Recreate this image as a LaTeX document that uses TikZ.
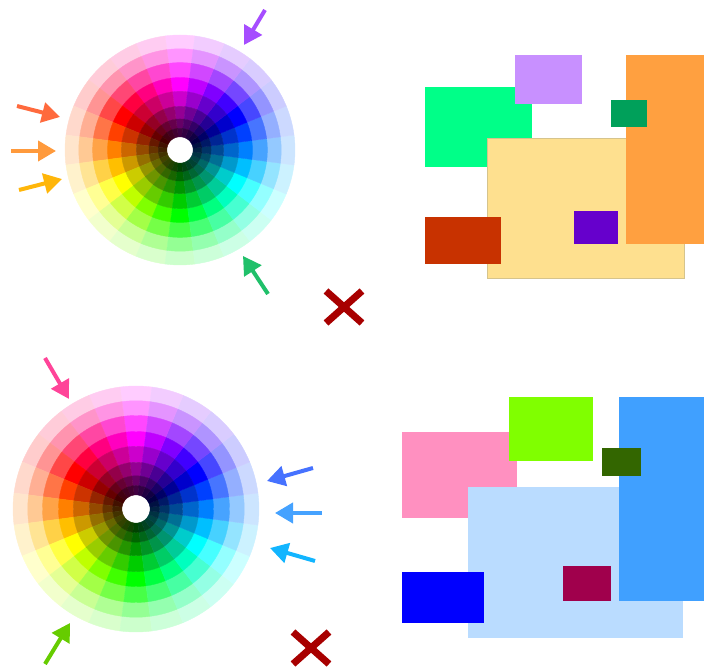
\documentclass[tikz,border=0pt]{standalone}
\usepackage{tikz}
\usetikzlibrary{positioning,arrows.meta}

% 24 hues x 8 rings, tints outside, shades inside
\newcommand{\colorwheel}[2]{%
  \begin{scope}[shift={#1}]
    \foreach \k in {0,...,23}{
      \pgfmathsetmacro\ang{90+15*\k}
      \pgfmathsetmacro\hue{mod(\ang+210,360)}
      \foreach \sat/\bri/\rin/\rout in {0.2/1/0.88/1, 0.42/1/0.76/0.88,
          0.72/1/0.63/0.76, 1/1/0.51/0.63, 1/0.8/0.38/0.51,
          1/0.58/0.27/0.38, 1/0.4/0.19/0.27, 1/0.26/0.115/0.19}{
        \definecolor{wc}{Hsb}{\hue,\sat,\bri}
        \filldraw[wc, line width=0.4pt]
          ({\ang-7.5}:{#2*\rin}) arc[start angle=\ang-7.5, end angle=\ang+7.5, radius=#2*\rin]
          -- ({\ang+7.5}:{#2*\rout}) arc[start angle=\ang+7.5, end angle=\ang-7.5, radius=#2*\rout]
          -- cycle;
      }
    }
  \end{scope}}

\definecolor{xred}{HTML}{A80000}

\begin{document}
\begin{tikzpicture}[
      x=1pt, y=1pt,
      arr/.style={line width=4pt, -{Triangle[length=18pt, width=20pt]}},
      xmark/.style={draw=xred, line width=7pt},
      box/.style={line width=0.8pt},
  ]
    \useasboundingbox (0,0) rectangle (710,671);

    % Top row: wheel, pointers, cross
    \colorwheel{(180,521)}{115}
    \coordinate (violet-tail) at (265,661);  \coordinate (violet-tip) at (244,626);
    \coordinate (spring-tail) at (268,377);  \coordinate (spring-tip) at (243,415);
    \coordinate (coral-tail)  at (17,565);   \coordinate (coral-tip)  at (60,554);
    \coordinate (orange-tail) at (11,520);   \coordinate (orange-tip) at (56,520);
    \coordinate (amber-tail)  at (19,481);   \coordinate (amber-tip)  at (62,492);
    \draw[arr, color={rgb,255:red,166;green,77;blue,255}]  (violet-tail) -- (violet-tip);
    \draw[arr, color={rgb,255:red,32;green,192;blue,106}]  (spring-tail) -- (spring-tip);
    \draw[arr, color={rgb,255:red,255;green,106;blue,61}]  (coral-tail)  -- (coral-tip);
    \draw[arr, color={rgb,255:red,255;green,154;blue,60}]  (orange-tail) -- (orange-tip);
    \draw[arr, color={rgb,255:red,255;green,182;blue,10}]  (amber-tail)  -- (amber-tip);
    \coordinate (cross1) at (344,364);
    \draw[xmark] (cross1) ++(-18,-16) -- ++(36,32) (cross1) ++(-18,16) -- ++(36,-32);

    % Top row: rectangles
    \fill[box, fill={rgb,255:red,0;green,255;blue,136}]   (425,504) rectangle (532,584);
    \fill[box, fill={rgb,255:red,200;green,144;blue,255}] (515,567) rectangle (582,616);
    \filldraw[box, fill={rgb,255:red,254;green,224;blue,143}, draw={rgb,255:red,214;green,196;blue,140}]
      (487,393) rectangle (684,533);
    \fill[box, fill={rgb,255:red,255;green,160;blue,64}]  (626,427) rectangle (704,616);
    \fill[box, fill={rgb,255:red,0;green,160;blue,90}]    (611,544) rectangle (647,571);
    \fill[box, fill={rgb,255:red,102;green,0;blue,204}]   (574,427) rectangle (618,460);
    \fill[box, fill={rgb,255:red,200;green,50;blue,0}]    (425,407) rectangle (501,454);

    % Bottom row: wheel, pointers, cross
    \colorwheel{(136,162)}{123}
    \coordinate (rose-tail)   at (45,313);   \coordinate (rose-tip)   at (69,272);
    \coordinate (blue-tail)   at (313,203);  \coordinate (blue-tip)   at (267,190);
    \coordinate (azure-tail)  at (322,158);  \coordinate (azure-tip)  at (275,158);
    \coordinate (sky-tail)    at (315,110);  \coordinate (sky-tip)    at (270,123);
    \coordinate (chart-tail)  at (45,7);     \coordinate (chart-tip)  at (70,48);
    \draw[arr, color={rgb,255:red,255;green,68;blue,153}]  (rose-tail)  -- (rose-tip);
    \draw[arr, color={rgb,255:red,70;green,114;blue,255}]  (blue-tail)  -- (blue-tip);
    \draw[arr, color={rgb,255:red,69;green,162;blue,255}]  (azure-tail) -- (azure-tip);
    \draw[arr, color={rgb,255:red,18;green,181;blue,255}]  (sky-tail)   -- (sky-tip);
    \draw[arr, color={rgb,255:red,102;green,204;blue,0}]   (chart-tail) -- (chart-tip);
    \coordinate (cross2) at (311,23);
    \draw[xmark] (cross2) ++(-18,-16) -- ++(36,32) (cross2) ++(-18,16) -- ++(36,-32);

    % Bottom row: rectangles
    \fill[box, fill={rgb,255:red,255;green,144;blue,192}] (402,153) rectangle (517,239);
    \fill[box, fill={rgb,255:red,128;green,255;blue,0}]   (509,210) rectangle (593,274);
    \fill[box, fill={rgb,255:red,186;green,220;blue,255}] (468,33) rectangle (683,184);
    \fill[box, fill={rgb,255:red,64;green,160;blue,255}]  (619,70) rectangle (704,274);
    \fill[box, fill={rgb,255:red,51;green,102;blue,0}]    (602,195) rectangle (641,223);
    \fill[box, fill={rgb,255:red,160;green,0;blue,76}]    (563,70) rectangle (611,105);
    \fill[box, fill={rgb,255:red,0;green,0;blue,255}]     (402,48) rectangle (484,99);
\end{tikzpicture}
\end{document}
